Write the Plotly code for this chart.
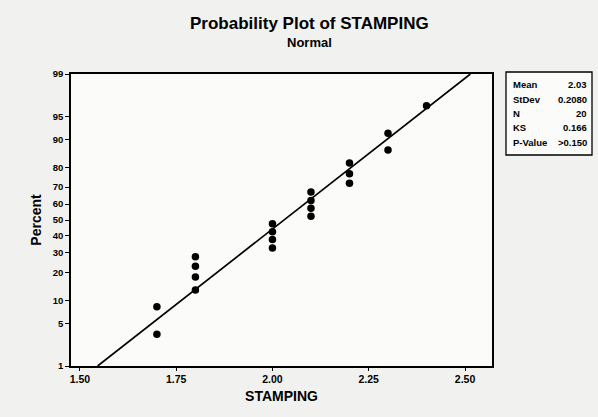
from statistics import NormalDist, mean, stdev
import plotly.graph_objects as go

# Observed stamping measurements (n = 20)
stamping = [1.7, 1.7,
            1.8, 1.8, 1.8, 1.8,
            2.0, 2.0, 2.0, 2.0,
            2.1, 2.1, 2.1, 2.1,
            2.2, 2.2, 2.2,
            2.3, 2.3,
            2.4]

# Probability-axis tick labels (percent)
percent_ticks = [1, 5, 10, 20, 30, 40, 50, 60, 70, 80, 90, 95, 99]
x_ticks = [1.50, 1.75, 2.00, 2.25, 2.50]
x_tick_text = ["1.50", "1.75", "2.00", "2.25", "2.50"]

# Summary table entries
stat_labels = ["Mean", "StDev", "N", "KS", "P-Value"]
stat_values = ["2.03", "0.2080", "20", "0.166", ">0.150"]

nd = NormalDist()
n = len(stamping)
xs = sorted(stamping)
# median-rank plotting positions, mapped to the normal-score scale
zs = [nd.inv_cdf((i - 0.3) / (n + 0.4)) for i in range(1, n + 1)]

mu, sd = mean(stamping), stdev(stamping)
z_lo, z_hi = nd.inv_cdf(0.01), nd.inv_cdf(0.99)

W, H = 598, 417
L, R, T, B = 71, 106, 74, 51
pw, ph = W - L - R, H - T - B


def px(x):
    return (x - L) / pw


def py(y):
    return (H - B - y) / ph


FONT = "Liberation Sans, Arial, sans-serif"

fig = go.Figure()

# fitted normal line
fig.add_trace(go.Scatter(
    x=[mu + sd * z_lo, mu + sd * z_hi], y=[z_lo, z_hi],
    mode="lines", line=dict(color="black", width=1.7),
    hoverinfo="skip", showlegend=False))

fig.add_trace(go.Scatter(
    x=xs, y=zs, mode="markers",
    marker=dict(color="black", size=7.5),
    showlegend=False))

fig.update_xaxes(
    range=[1.477, 2.57], tickvals=x_ticks, ticktext=x_tick_text,
    showgrid=False, zeroline=False,
    showline=True, linecolor="black", linewidth=1.6, mirror=True,
    ticks="outside", ticklen=3, tickwidth=1.2, tickcolor="black",
    tickfont=dict(family=FONT, size=10.5, color="black", weight="bold"),
    title=dict(text="STAMPING", standoff=7,
               font=dict(family=FONT, size=14, color="black", weight="bold")))

fig.update_yaxes(
    range=[z_lo, z_hi],
    tickvals=[nd.inv_cdf(p / 100) for p in percent_ticks],
    ticktext=[str(p) for p in percent_ticks],
    showgrid=False, zeroline=False,
    showline=True, linecolor="black", linewidth=1.6, mirror=True,
    ticks="outside", ticklen=4, tickwidth=1.2, tickcolor="black",
    tickfont=dict(family=FONT, size=9.5, color="black", weight="bold"),
    title=dict(text="Percent", standoff=8,
               font=dict(family=FONT, size=14, color="black", weight="bold")))

annotations = [
    dict(text="Probability Plot of STAMPING", x=px(309), y=py(23),
         font=dict(family=FONT, size=17, color="black", weight="bold")),
    dict(text="Normal", x=px(309), y=py(43),
         font=dict(family=FONT, size=13, color="black", weight="bold")),
]
row_y = [84, 99, 113, 128, 142]
for lab, val, yy in zip(stat_labels, stat_values, row_y):
    annotations.append(dict(text=lab, x=px(511), y=py(yy), xanchor="left",
                            font=dict(family=FONT, size=9.5, color="black", weight="bold")))
    annotations.append(dict(text=val, x=px(589), y=py(yy), xanchor="right",
                            font=dict(family=FONT, size=9.5, color="black", weight="bold")))
for a in annotations:
    a.update(xref="paper", yref="paper", showarrow=False, yanchor="middle")
    a.setdefault("xanchor", "center")

fig.update_layout(
    width=W, height=H,
    margin=dict(l=L, r=R, t=T, b=B),
    paper_bgcolor="#f1f1ef", plot_bgcolor="#fbfbfa",
    annotations=annotations,
    shapes=[dict(type="rect", xref="paper", yref="paper",
                 x0=px(506), x1=px(592), y0=py(155), y1=py(72),
                 line=dict(color="black", width=1.3), fillcolor="#fbfbfa",
                 layer="below")],
)

fig.write_html("out.html")
